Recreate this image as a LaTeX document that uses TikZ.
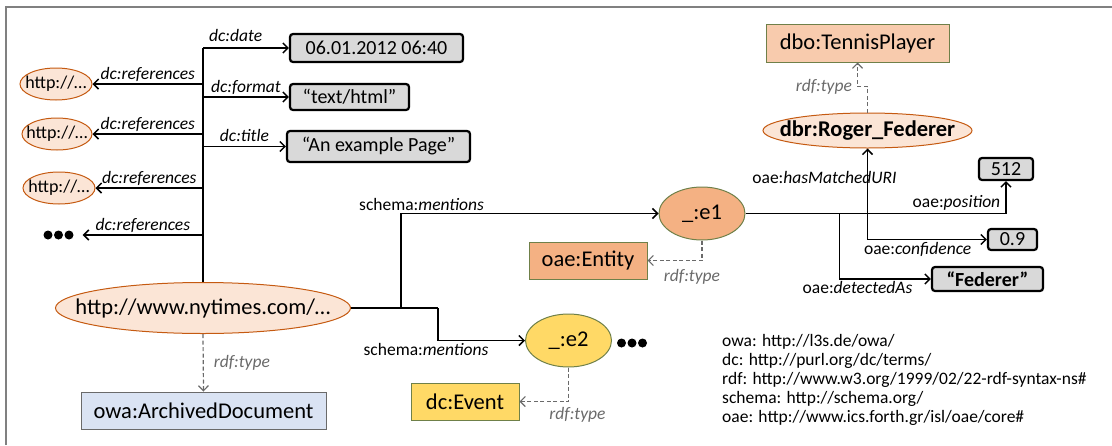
\documentclass[tikz,border=0pt]{standalone}
\usepackage{fontspec}
\setmainfont{Carlito}
\usepackage{xcolor}
\usetikzlibrary{shapes.geometric,arrows.meta,positioning}
\definecolor{peach}{HTML}{FBE5D6}
\definecolor{rust}{HTML}{C55A11}
\definecolor{salmon}{HTML}{F4B183}
\definecolor{apricot}{HTML}{F8CBAD}
\definecolor{gold}{HTML}{FFD966}
\definecolor{sky}{HTML}{DAE3F3}
\definecolor{lit}{HTML}{D9D9D9}
\definecolor{olive}{HTML}{6F8049}
\definecolor{dgray}{HTML}{6A6A6A}

\begin{document}
\begin{tikzpicture} [
        x = 1pt, y = -1pt,
        >= {Straight Barb[length=5pt,width=10pt]},
        every node/.style = { font = \fontsize{22.5}{27}\selectfont },
        res/.style = { ellipse, draw = rust, fill = peach, line width = 1pt, inner xsep = -40pt, inner ysep = -10pt },
        blank/.style = { ellipse, draw = olive, line width = 1pt, inner xsep = -40pt, inner ysep = -10pt, minimum width = 86, minimum height = 53 },
        cls/.style = { draw = olive, line width = 1pt, inner sep = 0, minimum height = 37 },
        val/.style = { draw, line width = 2.2pt, rounded corners = 3pt, fill = lit, inner sep = 0, font = \fontsize{20}{24}\selectfont },
        lbl/.style = { font = \fontsize{17.5}{21}\selectfont, inner sep = 2pt },
        typlbl/.style = { lbl, text = dgray, font = \fontsize{17.5}{21}\selectfont\itshape },
        rel/.style = { ->, line width = 1.5pt },
        typ/.style = { ->, draw = dgray, line width = 1.2pt, dash pattern = on 4pt off 2.5pt },
        dots/.style = { inner sep = 0, minimum width = 48, minimum height = 10,
            path picture = { \foreach \dx in {-10.5,0,10.5} \fill (path picture bounding box.center) ++(\dx,0) circle (4.5pt); } }
        ]
        \useasboundingbox (0,0) rectangle (1112,445);
        \draw [gray, line width = 1.5pt] (6,445) -- (6,7) -- (1112,7);

        \node [res, minimum width = 295, minimum height = 51] (doc) at (203,308) {http://www.nytimes.com/…};
        \node [cls, fill = sky, draw = dgray, minimum width = 245] (arch) at (203.5,410.5) {owa:ArchivedDocument};
        \node [val, minimum width = 173, minimum height = 28] (date) at (376.5,48) {06.01.2012 06:40};
        \node [val, minimum width = 119, minimum height = 26] (fmt) at (349.5,97) {“text/html”};
        \node [val, minimum width = 183, minimum height = 31] (title) at (378.5,146.5) {“An example Page”};
        \node [res, minimum width = 72, minimum height = 32, font = \fontsize{18}{22}\selectfont] (ref1) at (56,84) {http://…};
        \node [res, minimum width = 70, minimum height = 32, font = \fontsize{18}{22}\selectfont] (ref2) at (57,134) {http://…};
        \node [res, minimum width = 72, minimum height = 32, font = \fontsize{18}{22}\selectfont] (ref3) at (59,188) {http://…};
        \node [dots] (more) at (58.5,235) {};

        \node [blank, fill = salmon] (e1) at (702,213.5) {\_:e1};
        \node [cls, fill = salmon, minimum width = 118] (ent) at (588,260.5) {oae:Entity};
        \node [blank, fill = gold] (e2) at (568.5,340.5) {\_:e2};
        \node [dots, minimum width = 32] (more2) at (632,343) {};
        \node [cls, fill = gold, minimum width = 108] (event) at (465,401.5) {dc:Event};
        \node [cls, fill = apricot, minimum width = 183, minimum height = 38] (tp) at (857.5,43) {dbo:TennisPlayer};
        \node [res, minimum width = 209, minimum height = 35, font = \fontsize{22.5}{27}\selectfont\bfseries] (fed) at (867.5,130.5) {dbr:Roger\_Federer};
        \node [val, minimum width = 54, minimum height = 22] (posn) at (1006,169) {512};
        \node [val, minimum width = 49, minimum height = 21] (conf) at (1012.5,239.5) {0.9};
        \node [val, minimum width = 111, minimum height = 24, font = \fontsize{20}{24}\selectfont\bfseries] (fedlit) at (987.5,279) {“Federer”};

        \node [anchor = north west, inner sep = 0, align = left, font = \fontsize{17.5}{19}\selectfont] (ns) at (722,334) {owa: http://l3s.de/owa/\\dc: http://purl.org/dc/terms/\\rdf: http://www.w3.org/1999/02/22-rdf-syntax-ns\#\\schema: http://schema.org/\\oae: http://www.ics.forth.gr/isl/oae/core\#};

        \coordinate (top) at (doc.north |- date.west);
        \draw [line width = 2.5pt] (doc.north) -- (top);
        \draw [rel] (top) -- (date.west) node [lbl, pos = 0.38, above, yshift = 4pt] {\itshape dc:date};
        \draw [rel] (doc.north |- fmt.west) -- (fmt.west) node [lbl, midway, above] {\itshape dc:format};
        \draw [rel] (doc.north |- title.west) -- (title.west) node [lbl, midway, above, yshift = 2pt] {\itshape dc:title};
        \foreach \r in {ref1,ref2,ref3,more}
            \draw [rel] (doc.north |- \r.east) -- (\r.east) node [lbl, midway, above] {\itshape dc:references};
        \draw [typ] (doc.south) -- (arch.north) node [typlbl, midway, right, xshift = 8pt] {rdf:type};

        \coordinate (j1) at ([xshift = 50pt] doc.east);
        \coordinate (j2) at ([xshift = 87pt] doc.east);
        \draw [line width = 1.5pt] (doc.east) -- (j2);
        \draw [rel] (j1) |- (e1.west) node [lbl, pos = 0.54, above] {schema:\textit{mentions}};
        \draw [rel] (j2) |- (e2.west) node [lbl, pos = 0.5, below, xshift = -12pt] {schema:\textit{mentions}};
        \draw [typ] (e1.south) |- (ent.east) node [typlbl, pos = 0.5, below, xshift = -10pt, yshift = -6pt] {rdf:type};
        \draw [typ] (e2.south) |- (event.east) node [typlbl, pos = 0.5, below, xshift = 9pt, yshift = -3pt] {rdf:type};
        \draw [typ] (fed.north) |- ++(-10,-26) node [typlbl, left = 3pt] {rdf:type} -- (tp.south);

        \coordinate (j3) at (e1.east -| fed.south);
        \coordinate (j4) at ([xshift = 94pt] e1.east);
        \draw [rel] (e1.east) -| (posn.south) node [lbl, pos = 0.5, anchor = south east, xshift = -3pt] {oae:\textit{position}};
        \draw [rel] (j3) |- (conf.west) node [lbl, pos = 0.71, below] {oae:\textit{confidence}};
        \draw [rel] (conf.west -| fed.south) -- (fed.south) node [lbl, pos = 0.68, xshift = -43pt] {oae:\textit{hasMatchedURI}};
        \draw [rel] (j4) |- (fedlit.west) node [lbl, pos = 0.5, below, xshift = 18pt] {oae:\textit{detectedAs}};
    \end{tikzpicture}
\end{document}
